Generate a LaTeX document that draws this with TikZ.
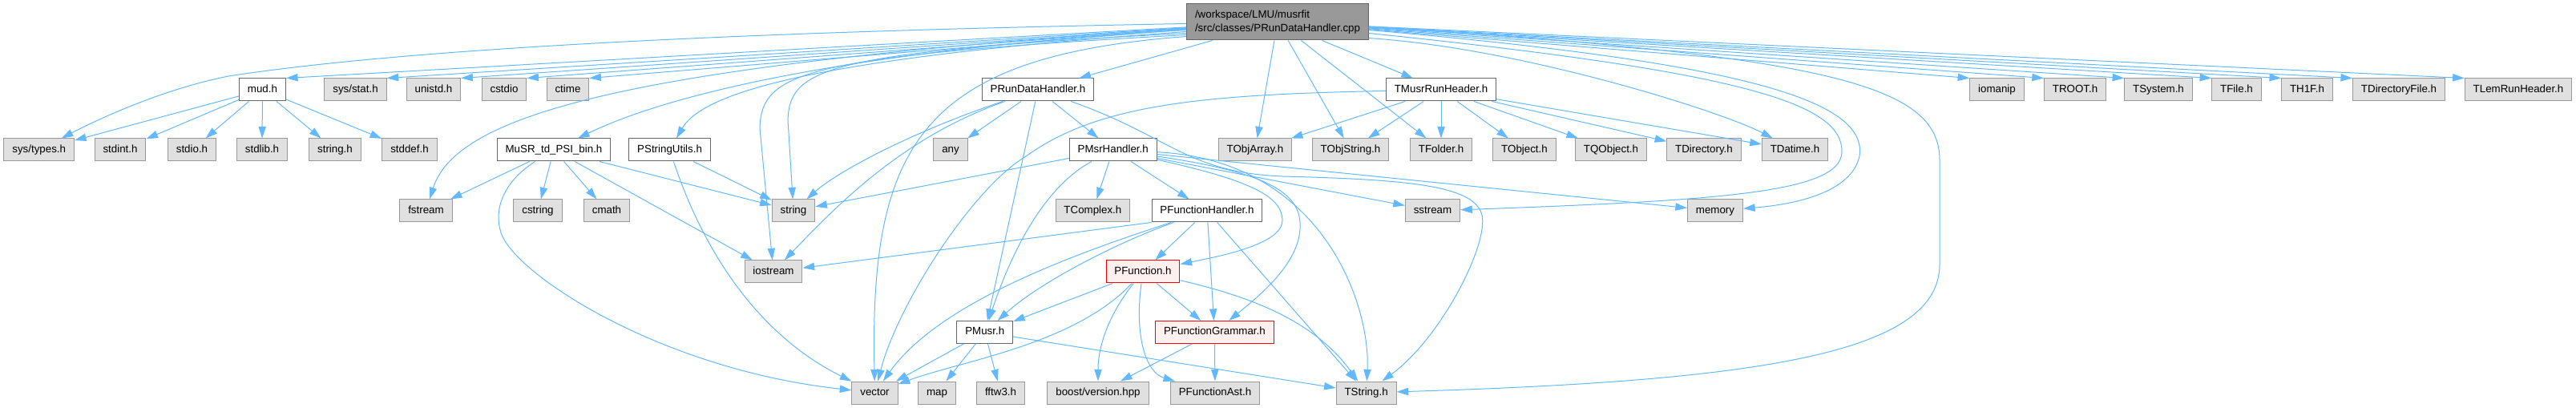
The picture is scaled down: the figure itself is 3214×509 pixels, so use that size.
\documentclass[tikz,border=0pt]{standalone}
\usepackage{fontspec}
\newfontfamily\dotfont{Liberation Sans}
\usetikzlibrary{arrows.meta}

\definecolor{edgeblue}{HTML}{63B8FF}
\definecolor{sysfill}{HTML}{E0E0E0}
\definecolor{sysline}{HTML}{999999}
\definecolor{hdrline}{HTML}{666666}
\definecolor{cutfill}{HTML}{FFF0F0}

\tikzset{
  incbox/.style={rectangle, line width=0.75pt, inner xsep=7.8pt, inner ysep=0pt,
    minimum height=21pt, text height=7.3pt, text depth=2.1pt,
    font=\dotfont\fontsize{10}{12.75}\selectfont},
  sysbox/.style={incbox, draw=sysline, fill=sysfill},
  hdrbox/.style={incbox, draw=hdrline, fill=white},
  cutbox/.style={incbox, draw=red, fill=cutfill},
  rootbox/.style={rectangle, line width=0.75pt, draw=hdrline, fill=sysline,
    inner xsep=7.8pt, minimum height=33.75pt, align=left,
    font=\dotfont\fontsize{10}{12.75}\selectfont},
  dep/.style={draw=edgeblue, line width=0.75pt, -{Triangle[length=11pt,width=7pt]}}
}

\begin{document}
\begin{tikzpicture}[x=0.75pt,y=-0.75pt]
\useasboundingbox (0,0) rectangle (3214,509);

\node[rootbox] (root) at (1594,27.5) {/workspace/LMU/musrfit\\/src/classes/PRunDataHandler.cpp};

\node[hdrbox] (mud) at (327.5,112) {mud.h};
\node[sysbox] (sysstat) at (443.5,112) {sys/stat.h};
\node[sysbox] (unistd) at (541,112) {unistd.h};
\node[sysbox] (cstdio) at (629,112) {cstdio};
\node[sysbox] (ctime) at (708.5,112) {ctime};
\node[hdrbox] (prdh) at (1295,112) {PRunDataHandler.h};
\node[hdrbox] (tmusr) at (1798,112) {TMusrRunHeader.h};
\node[sysbox] (iomanip) at (2491.5,112) {iomanip};
\node[sysbox] (troot) at (2589,112) {TROOT.h};
\node[sysbox] (tsystem) at (2693,112) {TSystem.h};
\node[sysbox] (tfile) at (2790.5,112) {TFile.h};
\node[sysbox] (thonef) at (2878.5,112) {TH1F.h};
\node[sysbox] (tdirfile) at (2993,112) {TDirectoryFile.h};
\node[sysbox] (tlemrun) at (3142,112) {TLemRunHeader.h};

\node[sysbox] (systypes) at (48.7,187) {sys/types.h};
\node[sysbox] (stdint) at (150,187) {stdint.h};
\node[sysbox] (stdio) at (239.5,187) {stdio.h};
\node[sysbox] (stdlib) at (327,187) {stdlib.h};
\node[sysbox] (stringh) at (418,187) {string.h};
\node[sysbox] (stddef) at (511,187) {stddef.h};
\node[hdrbox] (musr) at (691,187) {MuSR\_td\_PSI\_bin.h};
\node[hdrbox] (pstrutils) at (835.6,187) {PStringUtils.h};
\node[sysbox] (any) at (1186,187) {any};
\node[hdrbox] (pmsr) at (1388.7,187) {PMsrHandler.h};
\node[sysbox] (tobjarray) at (1566,187) {TObjArray.h};
\node[sysbox] (tobjstring) at (1685,187) {TObjString.h};
\node[sysbox] (tfolder) at (1798,187) {TFolder.h};
\node[sysbox] (tobject) at (1902,187) {TObject.h};
\node[sysbox] (tqobject) at (2010,187) {TQObject.h};
\node[sysbox] (tdirectory) at (2126,187) {TDirectory.h};
\node[sysbox] (tdatime) at (2239.5,187) {TDatime.h};

\node[sysbox] (fstream) at (531.5,263) {fstream};
\node[sysbox] (cstring) at (671,263) {cstring};
\node[sysbox] (cmath) at (757,263) {cmath};
\node[sysbox] (string) at (990,263) {string};
\node[sysbox] (tcomplex) at (1363.4,263) {TComplex.h};
\node[hdrbox] (pfh) at (1506,263) {PFunctionHandler.h};
\node[sysbox] (sstream) at (1787.5,263) {sstream};
\node[sysbox] (memory) at (2140,263) {memory};

\node[sysbox] (iostream) at (965,339) {iostream};
\node[cutbox] (pfunc) at (1426,339) {PFunction.h};

\node[hdrbox] (pmusr) at (1228.7,414.5) {PMusr.h};
\node[cutbox] (pfg) at (1515.4,414.5) {PFunctionGrammar.h};

\node[sysbox] (vector) at (1091.5,490) {vector};
\node[sysbox] (map) at (1169,490) {map};
\node[sysbox] (fftw) at (1248.5,490) {fftw3.h};
\node[sysbox] (boost) at (1370,490) {boost/version.hpp};
\node[sysbox] (pfast) at (1516,490) {PFunctionAst.h};
\node[sysbox] (tstring) at (1704.6,490) {TString.h};

\draw[dep] (root.181) .. controls (900,40) and (500,62) .. (285,95) .. controls (200,112) and (120,150) .. (systypes);
\draw[dep] (root) -- (mud.north east);
\draw[dep] (root) -- (sysstat.north east);
\draw[dep] (root) -- (unistd.north east);
\draw[dep] (root) -- (cstdio.north east);
\draw[dep] (root) -- (ctime.north east);
\draw[dep] (root.184) .. controls (800,80) and (570,140) .. (fstream);
\draw[dep] (root.185) .. controls (1100,60) and (850,110) .. (musr);
\draw[dep] (root.186) .. controls (1050,70) and (880,110) .. (pstrutils);
\draw[dep] (root.187) .. controls (1030,65) and (985,85) .. (983,150) -- (string);
\draw[dep] (root.188) .. controls (1000,70) and (950,90) .. (948,160) -- (iostream);
\draw[dep] (root.189) .. controls (1150,70) and (1085,180) .. (vector);
\draw[dep] (root) -- (prdh);
\draw[dep] (root) -- (tobjarray);
\draw[dep] (root) -- (tobjstring);
\draw[dep] (root) -- (tfolder);
\draw[dep] (root) -- (tmusr);
\draw[dep] (root.350) .. controls (1900,60) and (2150,140) .. (tdatime);
\draw[dep] (root.353) .. controls (2180,90) and (2300,130) .. (2298,190) .. controls (2296,240) and (2150,250) .. (sstream);
\draw[dep] (root.355) .. controls (2200,80) and (2330,130) .. (2320,195) .. controls (2310,240) and (2240,255) .. (memory);
\draw[dep] (root.357) .. controls (2300,70) and (2420,110) .. (2420,200) -- (2420,330) .. controls (2420,440) and (2200,475) .. (tstring);
\draw[dep] (root) -- (iomanip.north west);
\draw[dep] (root) -- (troot.north west);
\draw[dep] (root) -- (tsystem.north west);
\draw[dep] (root) -- (tfile.north west);
\draw[dep] (root) -- (thonef.north west);
\draw[dep] (root) -- (tdirfile.north west);
\draw[dep] (root) -- (tlemrun.north west);

\draw[dep] (mud) -- (systypes);
\draw[dep] (mud) -- (stdint);
\draw[dep] (mud) -- (stdio);
\draw[dep] (mud) -- (stdlib);
\draw[dep] (mud) -- (stringh);
\draw[dep] (mud) -- (stddef);

\draw[dep] (musr) -- (fstream);
\draw[dep] (musr) .. controls (630,225) and (615,260) .. (625,290) .. controls (640,340) and (820,460) .. (vector);
\draw[dep] (musr) -- (cstring);
\draw[dep] (musr) -- (cmath);
\draw[dep] (musr) -- (iostream);
\draw[dep] (musr) -- (string);

\draw[dep] (pstrutils) -- (string);
\draw[dep] (pstrutils) .. controls (880,320) and (950,420) .. (vector);

\draw[dep] (prdh) .. controls (1150,160) and (1050,210) .. (string);
\draw[dep] (prdh) .. controls (1130,170) and (1050,250) .. (iostream);
\draw[dep] (prdh) -- (any);
\draw[dep] (prdh) -- (pmusr);
\draw[dep] (prdh) -- (pmsr);
\draw[dep] (prdh) .. controls (1460,170) and (1480,215) .. (1600,220) .. controls (1760,224) and (1835,232) .. (1848,265) .. controls (1861,298) and (1800,420) .. (tstring);

\draw[dep] (pmsr) -- (string);
\draw[dep] (pmsr) .. controls (1300,235) and (1260,320) .. (pmusr);
\draw[dep] (pmsr) -- (tcomplex);
\draw[dep] (pmsr) -- (pfh);
\draw[dep] (pmsr) -- (sstream);
\draw[dep] (pmsr) -- (memory);
\draw[dep] (pmsr) .. controls (1650,200) and (1710,380) .. (tstring);
\draw[dep] (pmsr) .. controls (1560,225) and (1600,245) .. (1600,275) .. controls (1600,305) and (1520,320) .. (pfunc);
\draw[dep] (pmsr) .. controls (1580,215) and (1625,240) .. (1622,285) .. controls (1620,330) and (1570,370) .. (pfg);

\draw[dep] (tmusr) .. controls (1500,118) and (1370,130) .. (1280,195) .. controls (1213,235) and (1120,380) .. (vector);
\draw[dep] (tmusr) -- (tobjarray);
\draw[dep] (tmusr) -- (tobjstring);
\draw[dep] (tmusr) -- (tfolder);
\draw[dep] (tmusr) -- (tobject);
\draw[dep] (tmusr) -- (tqobject);
\draw[dep] (tmusr) -- (tdirectory);
\draw[dep] (tmusr) -- (tdatime);

\draw[dep] (pfh.south west) -- (iostream);
\draw[dep] (pfh) .. controls (1330,320) and (1170,380) .. (vector);
\draw[dep] (pfh) .. controls (1400,300) and (1300,350) .. (pmusr);
\draw[dep] (pfh) -- (pfunc);
\draw[dep] (pfh) -- (pfg);
\draw[dep] (pfh) -- (tstring);

\draw[dep] (pfunc) -- (pmusr);
\draw[dep] (pfunc) .. controls (1340,430) and (1200,450) .. (vector);
\draw[dep] (pfunc) .. controls (1385,390) and (1370,430) .. (boost);
\draw[dep] (pfunc) .. controls (1415,420) and (1430,465) .. (pfast);
\draw[dep] (pfunc) -- (pfg);
\draw[dep] (pfunc) .. controls (1560,370) and (1640,400) .. (tstring);

\draw[dep] (pfg) -- (boost);
\draw[dep] (pfg) -- (pfast);

\draw[dep] (pmusr) -- (vector);
\draw[dep] (pmusr) -- (map);
\draw[dep] (pmusr) -- (fftw);
\draw[dep] (pmusr) -- (tstring);
\end{tikzpicture}
\end{document}
